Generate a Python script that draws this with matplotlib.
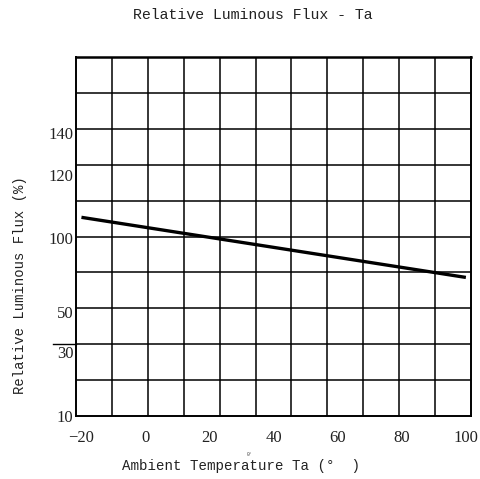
import numpy as np
import matplotlib
matplotlib.use("Agg")
import matplotlib.pyplot as plt
import matplotlib.transforms as mtransforms

# ---- data ----
x_ticks = [-20, 0, 20, 40, 60, 80, 100]
y_ticks = [10, 30, 50, 100, 120, 140]
temp = [-20, 100]
flux = [106.6, 73.3]

title = "Relative Luminous Flux - Ta"
xlabel = "Ambient Temperature Ta (°  )"
ylabel = "Relative Luminous Flux (%)"

# non-linear axis as drawn in the reference (value -> grid row)
scale_vals = [10, 30, 50, 100, 120, 140, 180]
scale_rows = [0.0, 1.78, 2.9, 4.96, 6.7, 7.88, 10.24]

def fwd(v):
    return np.interp(v, scale_vals, scale_rows, left=np.nan, right=np.nan) if False else np.interp(v, scale_vals, scale_rows)

def inv(r):
    return np.interp(r, scale_rows, scale_vals)

W, H = 481, 479
fig = plt.figure(figsize=(W / 100, H / 100), dpi=100)
L, R, T, B = 76, 471, 57, 416
ax = fig.add_axes([L / W, 1 - B / H, (R - L) / W, (B - T) / H])

ax.set_yscale("function", functions=(fwd, inv))
ax.set_xlim(-21.7, 101.6)
ax.set_ylim(10, float(inv(10.0)))

# grid: 11 columns x 10 rows
xmin, xmax = ax.get_xlim()
for xv in np.linspace(xmin, xmax, 12)[1:-1]:
    ax.axvline(xv, color="black", lw=1.1, zorder=1)
for r in range(1, 10):
    ax.axhline(float(inv(r)), color="black", lw=1.1, zorder=1)
# little extension of the gridline near "30"
trans = mtransforms.blended_transform_factory(ax.transAxes, ax.transData)
ax.plot([-0.058, 0], [float(inv(2.0))] * 2, color="black", lw=1.0,
        transform=trans, clip_on=False)

ax.plot(temp, flux, color="black", lw=2.4, solid_capstyle="butt", zorder=3)

ax.set_xticks(x_ticks)
ax.set_xticklabels([str(v).replace("-", "\u2212") for v in x_ticks])
ax.set_yticks(y_ticks)
ax.set_yticklabels([str(v) for v in y_ticks])
ax.minorticks_off()
ax.tick_params(length=0, labelsize=12, colors="#222222")
ax.tick_params(axis="x", pad=10)
ax.tick_params(axis="y", pad=2)
for lab in ax.get_xticklabels() + ax.get_yticklabels():
    lab.set_fontfamily("Liberation Serif")

for s in ax.spines.values():
    s.set_color("black")
    s.set_linewidth(1.4)
ax.spines["top"].set_linewidth(1.8)

mono = "Liberation Mono"
fig.text(253 / W, 1 - 15 / H, title, ha="center", va="center",
         fontsize=10.7, family=mono, color="#222222")
fig.text(241 / W, 1 - 466 / H, xlabel, ha="center", va="center",
         fontsize=10.2, family=mono, color="#222222")
fig.text(20 / W, 1 - 285 / H, ylabel, ha="center", va="center",
         rotation=90, fontsize=10.0, family=mono, color="#222222")
fig.text(250 / W, 1 - 455 / H, "0°", ha="center", va="center",
         fontsize=3.5, family=mono, color="#444444")

fig.savefig("out.png", dpi=100, facecolor="white")
